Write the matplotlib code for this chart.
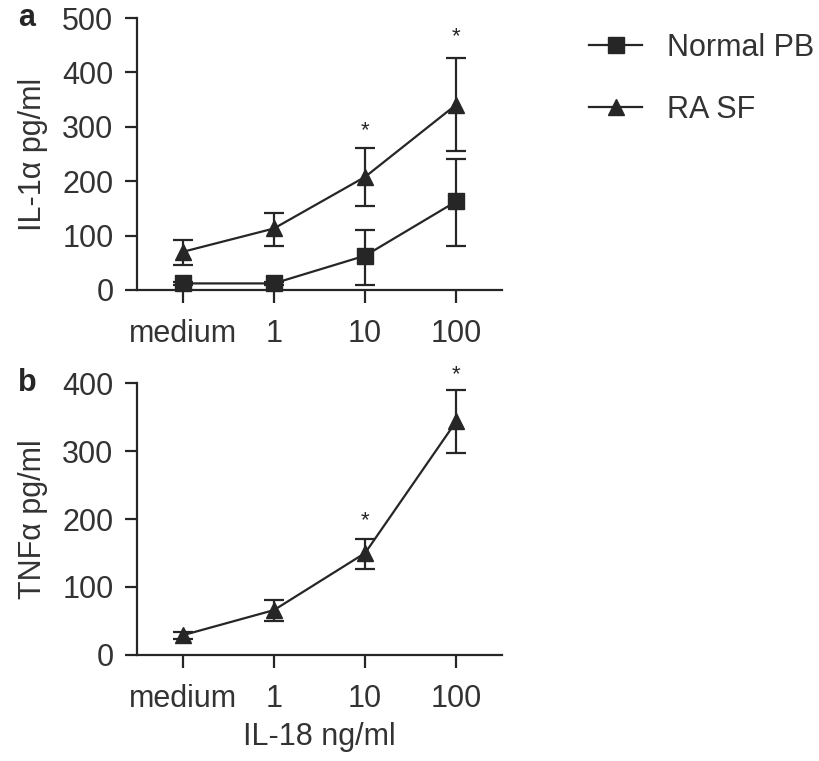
"""IL-1a / TNFa release after IL-18 stimulation, normal PB vs RA SF."""
import matplotlib
matplotlib.use("Agg")
import matplotlib.pyplot as plt
from matplotlib.lines import Line2D

plt.rcParams["font.family"] = ["Liberation Sans", "DejaVu Sans"]

doses = ["medium", "1", "10", "100"]

# panel a: IL-1alpha pg/ml
il1_pb = [12, 12, 63, 163]
il1_pb_lo = [3, 3, 53, 82]
il1_pb_hi = [3, 3, 47, 77]
il1_ra = [70, 113, 208, 341]
il1_ra_lo = [24, 32, 54, 85]
il1_ra_hi = [22, 29, 53, 85]
il1_stars = [None, None, 292, 466]

# panel b: TNFalpha pg/ml (RA SF only)
tnf_ra = [29, 66, 150, 344]
tnf_ra_lo = [5, 16, 24, 47]
tnf_ra_hi = [5, 15, 20, 46]
tnf_stars = [None, None, 198, 412]

INK = "#262626"
TXT = "#333333"
FS = 22


def style_axes(ax, ymax, step):
    ax.set_xlim(-0.5, 3.5)
    ax.set_ylim(0, ymax)
    ax.set_yticks(range(0, ymax + 1, step))
    ax.set_xticks(range(len(doses)))
    ax.set_xticklabels(doses)
    for s in ["top", "right"]:
        ax.spines[s].set_visible(False)
    for s in ["left", "bottom"]:
        ax.spines[s].set_linewidth(1.6)
        ax.spines[s].set_color(INK)
    ax.tick_params(length=9, width=1.6, color=INK, labelsize=FS,
                   labelcolor=TXT)
    ax.tick_params(axis="x", pad=12)
    ax.tick_params(axis="y", pad=8)


def draw(ax, ys, lo, hi, marker):
    ax.errorbar(range(len(ys)), ys, yerr=[lo, hi], color=INK, marker=marker,
                markersize=11, linewidth=1.6, elinewidth=1.6, capsize=7,
                capthick=1.6, clip_on=False, zorder=3)


def stars(ax, ys):
    for i, y in enumerate(ys):
        if y is not None:
            ax.text(i, y, "*", ha="center", va="center", fontsize=16, color=INK)


fig = plt.figure(figsize=(8.19, 7.61), dpi=100)
ax_a = fig.add_axes([0.1673, 0.619, 0.4457, 0.3573])
ax_b = fig.add_axes([0.1673, 0.1393, 0.4457, 0.3574])

draw(ax_a, il1_pb, il1_pb_lo, il1_pb_hi, "s")
draw(ax_a, il1_ra, il1_ra_lo, il1_ra_hi, "^")
stars(ax_a, il1_stars)
style_axes(ax_a, 500, 100)
ax_a.set_ylabel("IL-1α pg/ml", fontsize=FS, color=TXT, labelpad=10)

draw(ax_b, tnf_ra, tnf_ra_lo, tnf_ra_hi, "^")
stars(ax_b, tnf_stars)
style_axes(ax_b, 400, 100)
ax_b.set_ylabel("TNFα pg/ml", fontsize=FS, color=TXT, labelpad=10)
ax_b.set_xlabel("IL-18 ng/ml", fontsize=FS, color=TXT, labelpad=6)

fig.text(0.022, 0.976, "a", fontsize=FS, fontweight="bold", color=INK, va="center")
fig.text(0.022, 0.497, "b", fontsize=FS, fontweight="bold", color=INK, va="center")

handles = [Line2D([], [], color=INK, marker="s", markersize=11, linewidth=1.6),
           Line2D([], [], color=INK, marker="^", markersize=11, linewidth=1.6)]
ax_a.legend(handles, ["Normal PB", "RA SF"], loc="upper left",
            bbox_to_anchor=(0.693, 0.985), bbox_transform=fig.transFigure,
            frameon=False, fontsize=FS, labelcolor=TXT, handlelength=1.75,
            handletextpad=0.8, labelspacing=1.05, borderpad=0.2)

fig.savefig("out.png", dpi=100)
